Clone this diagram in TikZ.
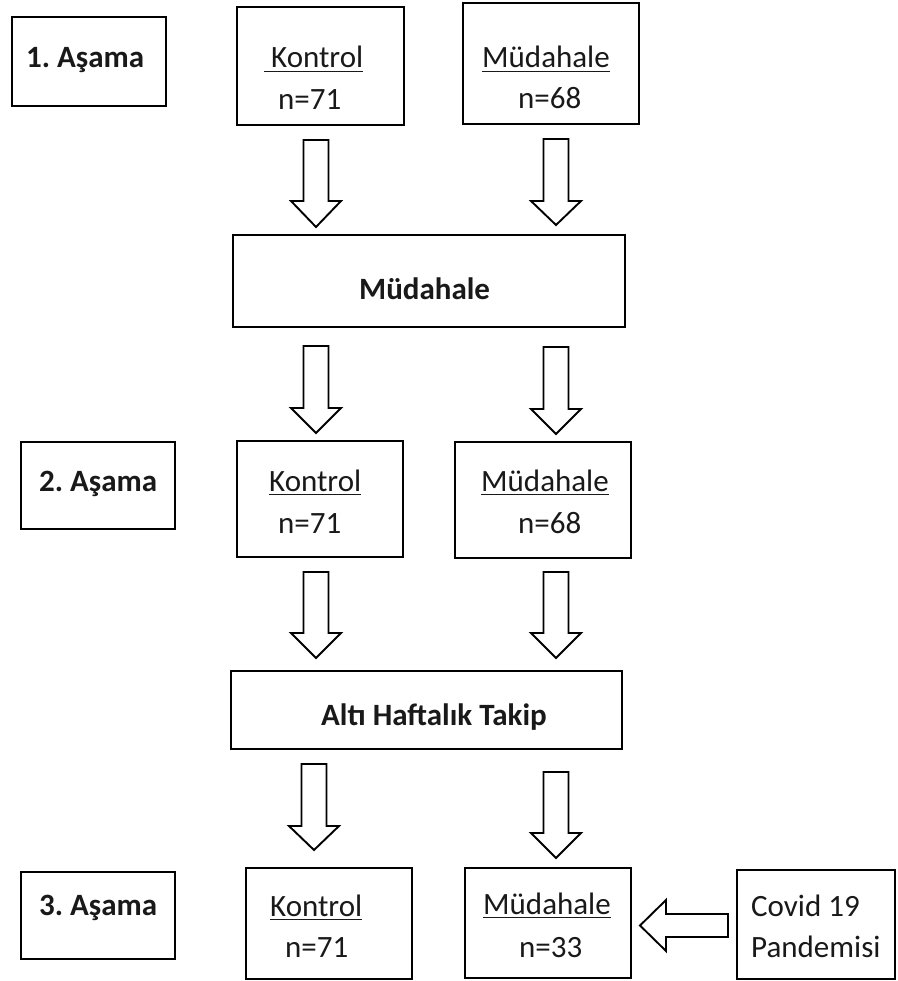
\documentclass[tikz,border=0pt]{standalone}
\usepackage{fontspec}
\setmainfont{Carlito}
\begin{document}
\begin{tikzpicture}[x=1pt,y=-1pt,
  box/.style={draw=black,line width=2.2pt,fill=white,inner sep=0pt,rectangle},
  txt/.style={inner sep=0pt,anchor=base west,text=black!90,font=\fontsize{31}{37}\selectfont},
  btxt/.style={txt,font=\fontsize{31}{37}\selectfont\bfseries},
  arrowline/.style={draw=black,line width=1.9pt,fill=white,line join=miter},
  uline/.style={draw=black!90,line width=1.5pt}]
\useasboundingbox (0,0) rectangle (897,981);
\newcommand\blockdown[4]{%
  \draw[arrowline] ({#1-12.5},#2) -- ({#1+12.5},#2) -- ({#1+12.5},#3) -- ({#1+25},#3) -- (#1,#4) -- ({#1-25},#3) -- ({#1-12.5},#3) -- cycle;}
% boxes
\node[box,minimum width=154pt,minimum height=89pt] (A1) at (89,61.5) {};
\node[box,minimum width=167pt,minimum height=118pt] (K1) at (320.5,66) {};
\node[box,minimum width=176pt,minimum height=121pt] (M1) at (551,63.5) {};
\node[box,minimum width=392pt,minimum height=92pt] (MUD) at (429,281) {};
\node[box,minimum width=154pt,minimum height=87pt] (A2) at (98,485.5) {};
\node[box,minimum width=166pt,minimum height=116pt] (K2) at (320,499) {};
\node[box,minimum width=176pt,minimum height=116pt] (M2) at (543,500) {};
\node[box,minimum width=391pt,minimum height=78pt] (ALT) at (426.5,710) {};
\node[box,minimum width=154pt,minimum height=87pt] (A3) at (98,915.5) {};
\node[box,minimum width=166pt,minimum height=111pt] (K3) at (329,923.5) {};
\node[box,minimum width=166pt,minimum height=110pt] (M3) at (548,923) {};
\node[box,minimum width=158pt,minimum height=109pt] (COV) at (816,924.5) {};
% texts
\node[btxt] (t1) at (26,68) {1.~Aşama};
\node[txt] (k1a) at (264,68) {\ Kontrol\ };
\node[txt] (k1b) at (278,110) {n=71};
\node[txt] (m1a) at (482,68) {Müdahale};
\node[txt] (m1b) at (518,109) {n=68};
\node[btxt] (mud) at (359,299) {Müdahale};
\node[btxt] (t2) at (39,491) {2.~Aşama};
\node[txt] (k2a) at (269,491) {Kontrol\ };
\node[txt] (k2b) at (278,533) {n=71};
\node[txt] (m2a) at (481,491) {Müdahale};
\node[txt] (m2b) at (518,533) {n=68};
\node[btxt] (alti) at (321,725) {Altı Haftalık Takip};
\node[btxt] (t3) at (39,915) {3.~Aşama};
\node[txt] (k3a) at (270,916) {Kontrol\ };
\node[txt] (k3b) at (285,957) {n=71};
\node[txt] (m3a) at (483,914) {Müdahale\ };
\node[txt] (m3b) at (519,957) {n=33};
\node[txt] (cov1) at (751,916) {Covid 19};
\node[txt] (cov2) at (751,957) {Pandemisi};
% underlines
\foreach \n in {k1a,m1a,k2a,m2a,k3a,m3a}
  \draw[uline] ([yshift=-3.5pt]\n.base west) -- ([yshift=-3.5pt]\n.base east);
% block arrows
\blockdown{316}{140}{201}{227}
\blockdown{556}{139}{201}{225}
\blockdown{316}{346}{408}{433}
\blockdown{556}{347}{409}{434}
\blockdown{316}{572}{633}{658}
\blockdown{556}{572}{633}{658}
\blockdown{314}{764}{826}{850}
\blockdown{556}{772}{833}{858}
\draw[arrowline] (728,914) -- (728,937) -- (666,937) -- (666,951) -- (640,925.5) -- (666,900) -- (666,914) -- cycle;
\end{tikzpicture}
\end{document}
